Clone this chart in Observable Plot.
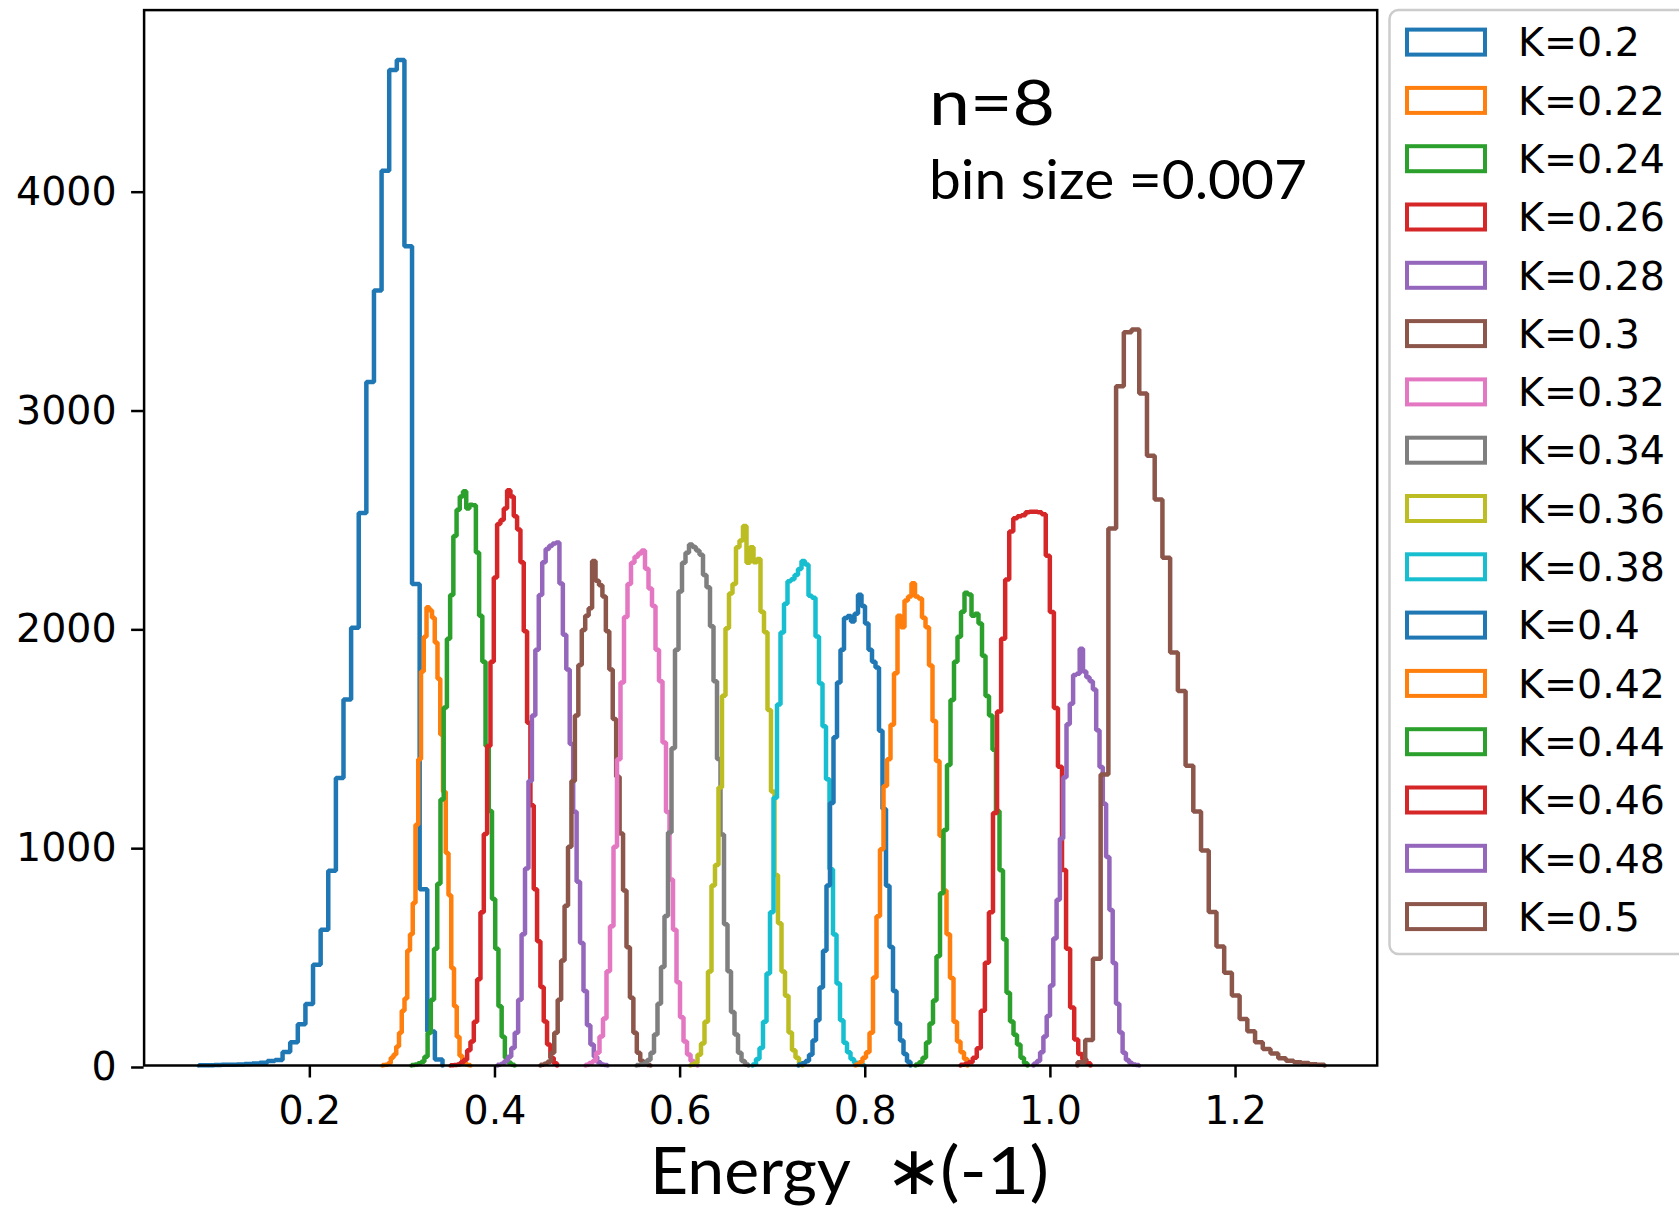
<!DOCTYPE html>
<html><head><meta charset="utf-8">
<script src="https://cdn.jsdelivr.net/npm/d3@7"></script>
<script src="https://cdn.jsdelivr.net/npm/@observablehq/plot@0.6"></script>
<style>
body{margin:0;background:#fff;}
#wrap{position:relative;width:1679px;height:1211px;overflow:hidden;background:#fff;}
#overlay{position:absolute;left:0;top:0;}
</style></head><body><div id="wrap"></div>
<script>
// ---- data ----
const kLabels = ["K=0.2","K=0.22","K=0.24","K=0.26","K=0.28","K=0.3","K=0.32","K=0.34","K=0.36","K=0.38","K=0.4","K=0.42","K=0.44","K=0.46","K=0.48","K=0.5"];
const seriesColors = ["#1f77b4","#ff7f0e","#2ca02c","#d62728","#9467bd","#8c564b","#e377c2","#7f7f7f","#bcbd22","#17becf","#1f77b4","#ff7f0e","#2ca02c","#d62728","#9467bd","#8c564b"];
const binStart = [0.08005,0.27849,0.30982,0.35195,0.40272,0.44917,0.49779,0.55288,0.61121,0.67819,0.72788,0.78946,0.85427,0.90289,0.98174,1.02927];
const binWidth = [0.008227,0.002971,0.003478,0.003597,0.003716,0.003716,0.003781,0.003781,0.003781,0.003781,0.003781,0.003781,0.003781,0.004386,0.003565,0.008340];

const countsK020 = [1,1,2,3,4,5,7,9,13,20,25,62,106,188,281,460,620,890,1314,1673,2000,2525,3124,3542,4089,4549,4595,3744,2200,806,155,27];
const countsK022 = [2,4,10,35,50,87,150,250,306,525,600,743,1100,1400,1800,1959,2094,2080,2046,1933,1767,1513,1251,971,778,446,271,131,44,15,6,2];
const countsK024 = [2,5,10,17,40,149,300,534,831,1216,1636,1950,2150,2420,2540,2600,2624,2545,2563,2560,2344,2055,1845,1460,1163,761,534,271,131,35,12,4];
const countsK026 = [1,2,5,15,26,70,110,200,394,700,1058,1460,1845,2230,2475,2493,2545,2629,2600,2510,2449,2300,1985,1566,1189,805,568,359,201,96,35,10];
const countsK028 = [3,8,20,40,80,150,300,600,900,1300,1600,1900,2150,2300,2360,2375,2385,2390,2203,1968,1810,1469,1160,840,560,341,184,96,40,15,5,2];
const countsK030 = [3,8,17,58,150,300,480,730,1000,1300,1600,1830,1990,2055,2090,2306,2215,2195,2143,1985,1810,1583,1320,1060,800,540,310,150,58,20,6,2];
const countsK032 = [3,11,20,58,132,215,431,636,1000,1400,1750,2050,2200,2297,2325,2340,2353,2270,2180,2100,1900,1756,1476,1159,850,620,380,220,110,50,20,6];
const countsK034 = [2,5,10,25,58,142,282,450,683,1065,1450,1900,2166,2297,2343,2381,2370,2353,2334,2241,2185,2007,1756,1401,1056,646,431,244,142,58,20,5];
const countsK036 = [3,11,49,100,200,430,823,916,1270,1690,1998,2157,2200,2368,2399,2465,2297,2368,2300,2315,2073,1980,1625,1252,870,650,430,319,151,70,35,10];
const countsK038 = [5,30,80,200,420,700,1224,1650,1979,2110,2213,2222,2241,2269,2306,2290,2147,2138,1961,1746,1550,1308,897,599,375,207,104,60,30,12,5,2];
const countsK040 = [5,10,20,49,114,207,356,524,823,1200,1500,1750,1900,2045,2054,2029,2064,2151,2100,2020,1900,1845,1819,1530,1172,822,542,341,192,114,52,17];
const countsK042 = [5,15,35,61,150,402,682,988,1277,1400,1557,1793,2055,2003,2125,2143,2204,2143,2134,2046,2003,1828,1574,1391,1050,800,600,400,200,110,60,30];
const countsK044 = [5,15,35,105,192,297,499,787,1076,1373,1670,1845,1959,2073,2160,2152,2055,2064,2020,1872,1688,1600,1443,1163,892,577,332,201,140,96,35,10];
const countsK046 = [3,8,15,35,79,250,470,700,1154,1618,1950,2221,2440,2501,2510,2515,2528,2531,2531,2528,2519,2330,2072,1634,1365,893,534,265,119,52,29,10];
const countsK048 = [8,20,60,132,226,366,580,757,1037,1317,1560,1653,1784,1790,1905,1800,1774,1756,1718,1532,1364,1196,953,711,468,282,151,58,25,11,5,2];
const countsK050 = [15,117,488,1330,2454,3104,3351,3363,3071,2787,2587,2320,1887,1711,1370,1161,982,702,544,424,320,212,156,106,75,55,33,22,15,11,6,3];

const seriesCounts = [countsK020,countsK022,countsK024,countsK026,countsK028,countsK030,countsK032,countsK034,countsK036,countsK038,countsK040,countsK042,countsK044,countsK046,countsK048,countsK050];

const xTicks = [0.2,0.4,0.6,0.8,1.0,1.2];
const yTicks = [0,1000,2000,3000,4000];
const xLabel = ["Energy", "\u2217", "(-1)"];
const noteLines = ["n=8", "bin size =0.007"];

// ---- build step outlines (matplotlib histtype='step') ----
const rows = [];
seriesCounts.forEach((c, s) => {
  const x0 = binStart[s], w = binWidth[s], k = kLabels[s];
  rows.push({k, x: x0, y: 0});
  c.forEach((v, i) => rows.push({k, x: x0 + i * w, y: v}));
  rows.push({k, x: x0 + c.length * w, y: c[c.length - 1]});
  rows.push({k, x: x0 + c.length * w, y: 0});
});

const W = 1679, H = 1211;
const axL = 143.6, axR = 1376.7, axT = 9.6, axB = 1065;

const plot = Plot.plot({
  width: W, height: H,
  marginLeft: axL, marginRight: W - axR, marginTop: axT, marginBottom: H - axB,
  style: {fontFamily: "DejaVu Sans", fontSize: "39.5px", color: "black", background: "white"},
  x: {domain: [0.02096, 1.35303]},
  y: {domain: [0, 4823]},
  color: {domain: kLabels, range: seriesColors},
  marks: [
    Plot.line(rows, {x: "x", y: "y", z: "k", stroke: "k", curve: "step-after", strokeWidth: 4.5, strokeLinejoin: "miter"}),
    Plot.axisX({ticks: xTicks, tickFormat: d3.format(".1f"), tickSize: 12.5, tickPadding: 18, strokeWidth: 2.5, label: null}),
    Plot.axisY({ticks: yTicks, tickFormat: d3.format("d"), tickSize: 12.5, tickPadding: 15, strokeWidth: 2.5, dy: 2, label: null}),
    Plot.frame({stroke: "black", strokeWidth: 2.5})
  ]
});
const wrap = document.getElementById("wrap");
wrap.appendChild(plot);

// ---- overlay: legend + annotations ----
const svg = d3.select(wrap).append("svg").attr("id", "overlay").attr("width", W).attr("height", H);
svg.append("rect").attr("x", 1389.5).attr("y", 10).attr("width", 300).attr("height", 944)
  .attr("rx", 9).attr("fill", "white").attr("stroke", "#cccccc").attr("stroke-width", 2.5);
const legendG = svg.append("g");
kLabels.forEach((k, i) => {
  const y = 27.6 + 58.3 * i;
  legendG.append("rect").attr("x", 1407).attr("y", y + 2).attr("width", 78).attr("height", 25)
    .attr("fill", "none").attr("stroke", seriesColors[i]).attr("stroke-width", 4);
  legendG.append("text").attr("x", 1518).attr("y", y + 28.7).text(k)
    .attr("font-family", "DejaVu Sans").attr("font-size", 39.5).attr("fill", "black");
});
svg.append("text").attr("x", 929).attr("y", 125).text(noteLines[0])
  .attr("font-family", "Lato").attr("font-size", 61).attr("fill", "black")
  .attr("textLength", 126).attr("lengthAdjust", "spacingAndGlyphs");
svg.append("text").attr("x", 929).attr("y", 199).text(noteLines[1])
  .attr("font-family", "Lato").attr("font-size", 54).attr("fill", "black")
  .attr("textLength", 378).attr("lengthAdjust", "spacingAndGlyphs");
svg.append("text").attr("x", 650).attr("y", 1194).text(xLabel[0])
  .attr("font-family", "Lato").attr("font-size", 65).attr("fill", "black")
  .attr("textLength", 201).attr("lengthAdjust", "spacingAndGlyphs");
svg.append("text").attr("x", 914).attr("y", 1194).attr("text-anchor", "middle").text(xLabel[1])
  .attr("font-family", "DejaVu Sans").attr("font-size", 68).attr("fill", "black");
svg.append("text").attr("x", 940).attr("y", 1194).text(xLabel[2])
  .attr("font-family", "Lato").attr("font-size", 65).attr("fill", "black")
  .attr("textLength", 109).attr("lengthAdjust", "spacingAndGlyphs");
</script></body></html>
